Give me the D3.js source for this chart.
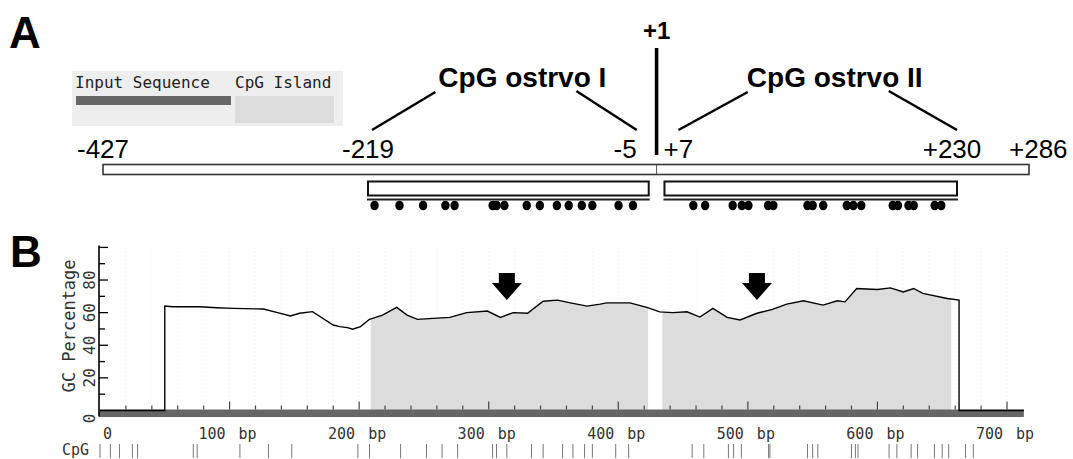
<!DOCTYPE html>
<html>
<head>
<meta charset="utf-8">
<script src="https://cdn.jsdelivr.net/npm/d3@7"></script>
<style>
body { margin: 0; background: #fff; }
svg { display: block; }
.mono { font-family: "DejaVu Sans Mono", "Liberation Mono", monospace; }
.sans { font-family: "Liberation Sans", Arial, sans-serif; }
</style>
</head>
<body>
<svg id="chart" width="1073" height="459"></svg>
<script>

/////// Data ///////

// panel A, promoter coordinates (no zero)
var seqRange = [-427, 286];
var islands = [[-219, -5], [7, 230]];
var islandNames = ["CpG ostrvo I", "CpG ostrvo II"];
var posLabels = [-427, -219, -5, 7, 230, 286];
var tssPos = 1;
var cpgDots = [-214, -195, -177, -160, -153, -124, -121, -115, -98, -88, -75, -66, -56, -48, -28, -17,
               29, 38, 59, 66, 71, 86, 90, 116, 120, 128, 146, 151, 157, 181, 185, 193, 197, 213, 218];

// panel B, base pairs along the input sequence
var seqLength = 713;
var gcPos = [0, 50, 50, 56, 77, 90, 103, 126, 137, 147, 154, 164, 180, 185, 191, 195, 201, 208, 218, 229,
             237, 245, 257, 270, 283, 299, 309, 319, 330, 342, 353, 365, 376, 386, 391, 409, 422, 432, 442, 453,
             463, 473, 484, 494, 507, 519, 530, 543, 558, 569, 575, 584, 600, 610, 620, 628, 635, 654, 663, 663, 713];
var gcVal = [0, 0, 64, 63.6, 63.6, 63, 62.6, 62.2, 60, 58, 59.6, 60.6, 52.4, 51.4, 50.8, 49.8, 51.4, 55.9, 58.5, 63.2,
             58.5, 55.9, 56.5, 57.1, 60, 61, 57.1, 60, 59.6, 67, 67.7, 65.7, 64, 65.2, 66, 66, 63.2, 60.5, 60, 60.5,
             57.3, 62.6, 57.1, 55.5, 59.6, 62, 65.2, 67.3, 64.6, 67.3, 66.6, 74.8, 74.2, 75.2, 72.7, 74.8, 71.8, 68.7, 67.7, 0, 0];
var cpgTicks = [0, 8, 15, 25, 29, 72, 75, 108, 130, 148, 199, 208, 232, 252, 264, 276, 303, 306, 314, 333,
                342, 357, 365, 374, 380, 398, 408, 457, 466, 485, 489, 495, 516, 517, 546, 550, 554, 580, 583, 585,
                609, 615, 626, 631, 644, 650, 655, 668, 674];
var arrowPos = [314, 507];
var yLabels = [0, 20, 40, 60, 80];
var xLabels = [0, 100, 200, 300, 400, 500, 600, 700];

function toBp(p) { return p < 0 ? p + 428 : p + 427; }
function fmtPos(p) { return p > 0 ? "+" + p : "" + p; }

var svg = d3.select("#chart");

/////// Panel A ///////

var xa = d3.scaleLinear().domain([-427, -219, 230, 286]).range([103, 368, 957, 1029]);

svg.append("text").attr("class", "sans").attr("x", 9).attr("y", 48)
    .attr("font-size", 44).attr("font-weight", "bold").text("A");

// legend box
var leg = svg.append("g");
leg.append("rect").attr("x", 72).attr("y", 71).attr("width", 271).attr("height", 55).attr("fill", "#eeeeee");
leg.append("text").attr("class", "mono").attr("x", 75).attr("y", 88).attr("font-size", 16)
    .attr("fill", "#222").text("Input Sequence");
leg.append("rect").attr("x", 76).attr("y", 96).attr("width", 155).attr("height", 9).attr("fill", "#666");
leg.append("text").attr("class", "mono").attr("x", 235).attr("y", 88).attr("font-size", 16)
    .attr("fill", "#222").text("CpG Island");
leg.append("rect").attr("x", 235).attr("y", 96).attr("width", 99).attr("height", 27).attr("fill", "#dcdcdc");

// whole sequence bar
svg.append("rect").attr("x", xa(seqRange[0])).attr("y", 164.5)
    .attr("width", xa(seqRange[1]) - xa(seqRange[0])).attr("height", 10)
    .attr("fill", "#fff").attr("stroke", "#333").attr("stroke-width", 1.6);
svg.append("line").attr("x1", xa(tssPos)).attr("x2", xa(tssPos)).attr("y1", 165).attr("y2", 174)
    .attr("stroke", "#555").attr("stroke-width", 1);

// +1 marker
svg.append("line").attr("x1", xa(tssPos)).attr("x2", xa(tssPos)).attr("y1", 48).attr("y2", 155)
    .attr("stroke", "#000").attr("stroke-width", 3.5);
svg.append("text").attr("class", "sans").attr("x", xa(tssPos)).attr("y", 39)
    .attr("text-anchor", "middle").attr("font-size", 24).attr("font-weight", "bold").text("+1");

// position labels
var labelAnchor = {"-427": "middle", "-219": "middle", "-5": "end", "7": "start", "230": "middle", "286": "start"};
var labelDx = {"-427": 0, "-219": 0, "-5": -12, "7": -1, "230": -5, "286": -20};
svg.selectAll(".plabel").data(posLabels).enter().append("text")
    .attr("class", "sans plabel")
    .attr("x", function(d) { return xa(d) + labelDx[d]; })
    .attr("y", 158)
    .attr("text-anchor", function(d) { return labelAnchor[d]; })
    .attr("font-size", 26)
    .text(fmtPos);

// islands
var titleDx = [14, 24], leaderDx = [[4, -12], [14, 0]];
islands.forEach(function(isl, i) {
    var x0 = xa(isl[0]), x1 = xa(isl[1]);
    svg.append("rect").attr("x", x0).attr("y", 181.5).attr("width", x1 - x0).attr("height", 14)
        .attr("fill", "#fff").attr("stroke", "#111").attr("stroke-width", 2);
    svg.append("line").attr("x1", x0 - 1).attr("x2", x1 + 1).attr("y1", 199.5).attr("y2", 199.5)
        .attr("stroke", "#222").attr("stroke-width", 2);
    var cx = (x0 + x1) / 2 + titleDx[i];
    svg.append("text").attr("class", "sans").attr("x", cx).attr("y", 87)
        .attr("text-anchor", "middle").attr("font-size", 28).attr("font-weight", "bold")
        .text(islandNames[i]);
    svg.append("line").attr("x1", cx - 87).attr("y1", 92).attr("x2", x0 + leaderDx[i][0]).attr("y2", 130)
        .attr("stroke", "#000").attr("stroke-width", 2.5);
    svg.append("line").attr("x1", cx + 54).attr("y1", 91).attr("x2", x1 + leaderDx[i][1]).attr("y2", 130)
        .attr("stroke", "#000").attr("stroke-width", 2.5);
});

// CpG sites as dots
svg.selectAll(".dot").data(cpgDots).enter().append("ellipse")
    .attr("class", "dot")
    .attr("cx", function(d) { return xa(d); })
    .attr("cy", 205.5)
    .attr("rx", 4.2).attr("ry", 4.8)
    .attr("fill", "#000");

/////// Panel B ///////

var xb = d3.scaleLinear().domain([0, 700]).range([100, 1007]);
var yb = d3.scaleLinear().domain([0, 100]).range([410.5, 247.4]);

svg.append("text").attr("class", "sans").attr("x", 10).attr("y", 267)
    .attr("font-size", 44).attr("font-weight", "bold").text("B");

// faint grid
svg.append("g").selectAll("line").data(d3.range(20, 720, 20)).enter().append("line")
    .attr("x1", function(d) { return xb(d); }).attr("x2", function(d) { return xb(d); })
    .attr("y1", yb(100)).attr("y2", yb(0) - 2)
    .attr("stroke", "#ececec").attr("stroke-width", 1).attr("stroke-dasharray", "1,3");

// shaded islands under the curve
var gc = gcPos.map(function(p, i) { return [p, gcVal[i]]; });
var defs = svg.append("defs");
islands.forEach(function(isl, i) {
    defs.append("clipPath").attr("id", "isl" + i).append("rect")
        .attr("x", xb(toBp(isl[0]))).attr("y", yb(100))
        .attr("width", xb(toBp(isl[1])) - xb(toBp(isl[0]))).attr("height", yb(0) - yb(100));
});
var area = d3.area().x(function(d) { return xb(d[0]); }).y0(yb(0)).y1(function(d) { return yb(d[1]); });
islands.forEach(function(isl, i) {
    svg.append("path").datum(gc).attr("d", area)
        .attr("fill", "#dcdcdc").attr("clip-path", "url(#isl" + i + ")");
});

// baseline bar
svg.append("rect").attr("x", xb(0) - 1).attr("y", yb(0) - 1)
    .attr("width", xb(seqLength) - xb(0) + 1).attr("height", 7.5).attr("fill", "#666");

// x ticks
svg.append("g").selectAll("line").data(d3.range(20, 720, 20)).enter().append("line")
    .attr("x1", function(d) { return xb(d); }).attr("x2", function(d) { return xb(d); })
    .attr("y1", function(d) { return yb(0) - (d % 100 === 0 ? 9 : 5); }).attr("y2", yb(0) - 1)
    .attr("stroke", "#444").attr("stroke-width", 1.2);

// GC line
var line = d3.line().x(function(d) { return xb(d[0]); }).y(function(d) { return yb(d[1]); });
svg.append("path").datum(gc).attr("d", line)
    .attr("fill", "none").attr("stroke", "#000").attr("stroke-width", 1.4);

// y axis
svg.append("line").attr("x1", xb(0) - 1).attr("x2", xb(0) - 1).attr("y1", yb(100) - 2).attr("y2", yb(0) + 6)
    .attr("stroke", "#000").attr("stroke-width", 1.6);
svg.append("g").selectAll("line").data(d3.range(10, 110, 10)).enter().append("line")
    .attr("x1", xb(0) - 1).attr("x2", function(d) { return xb(0) + (d % 20 === 0 ? 8 : 5); })
    .attr("y1", function(d) { return yb(d); }).attr("y2", function(d) { return yb(d); })
    .attr("stroke", "#000").attr("stroke-width", 1.3);
svg.append("g").selectAll("text").data(yLabels).enter().append("text")
    .attr("class", "mono")
    .attr("transform", function(d) { return "translate(95," + (yb(d) + (d === 0 ? 8 : 0)) + ") rotate(-90)"; })
    .attr("text-anchor", "middle").attr("font-size", 16).attr("fill", "#333")
    .text(function(d) { return d; });
svg.append("text").attr("class", "mono")
    .attr("transform", "translate(75," + ((yb(0) + yb(100)) / 2 - 3) + ") rotate(-90)")
    .attr("text-anchor", "middle").attr("font-size", 17).attr("fill", "#333")
    .text("GC Percentage");

// x labels
svg.append("g").selectAll("text").data(xLabels).enter().append("text")
    .attr("class", "mono")
    .attr("x", function(d) { return d === 0 ? xb(d) + 3 : xb(d) - 2; })
    .attr("y", 439)
    .attr("text-anchor", function(d) { return d === 0 ? "start" : "middle"; })
    .attr("font-size", 15).attr("fill", "#333").attr("word-spacing", 4)
    .text(function(d) { return d === 0 ? "0" : d + " bp"; });

// arrows over CpG targets
var arrowShape = "M-8,0 L8,0 L8,10 L15,10 L0,27 L-15,10 L-8,10 Z";
svg.selectAll(".arrow").data(arrowPos).enter().append("path")
    .attr("class", "arrow")
    .attr("transform", function(d) { return "translate(" + xb(d) + ",273)"; })
    .attr("d", arrowShape).attr("fill", "#000");

// CpG track
svg.append("text").attr("class", "mono").attr("x", 62).attr("y", 455)
    .attr("font-size", 15).attr("fill", "#333").text("CpG");
svg.append("g").selectAll("line").data(cpgTicks).enter().append("line")
    .attr("x1", function(d) { return xb(d); }).attr("x2", function(d) { return xb(d); })
    .attr("y1", 444).attr("y2", 458)
    .attr("stroke", "#777").attr("stroke-width", 1);

</script>
</body>
</html>
